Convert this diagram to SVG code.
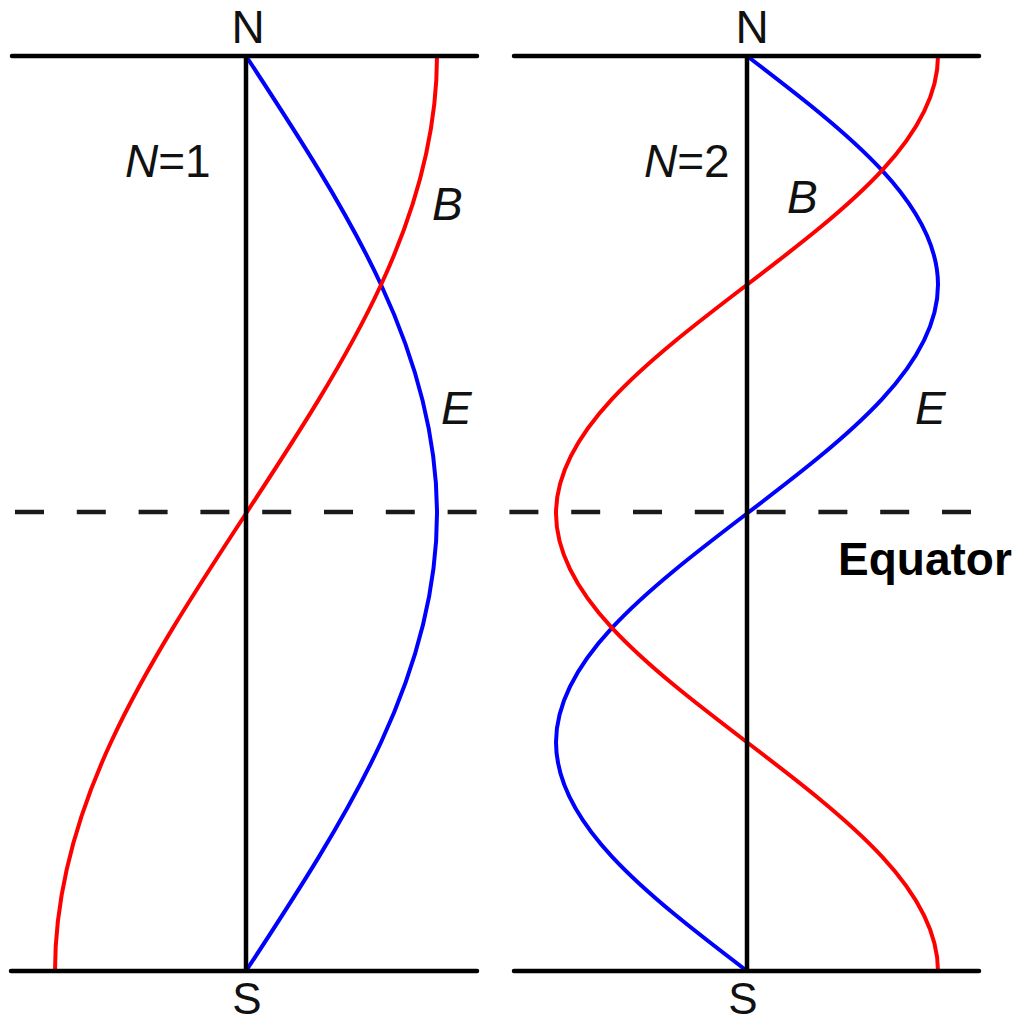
<svg xmlns="http://www.w3.org/2000/svg" width="1025" height="1023" viewBox="0 0 1025 1023">
<style>
.ax{stroke:#000;stroke-width:4.5;fill:none;stroke-linecap:round}
.eq{stroke:#1a1a1a;stroke-width:4.5;fill:none;stroke-dasharray:29 32.8}
.E{stroke:#0000ff;stroke-width:4;fill:none}
.B{stroke:#ff0000;stroke-width:4;fill:none}
.t{font-family:"Liberation Sans",Arial,sans-serif;font-size:46px;fill:#111}
.s{font-size:44px}
.i{font-style:italic}
.b{font-weight:bold;fill:#000}
</style>
<rect width="1025" height="1023" fill="#fff"/>
<line class="eq" x1="15" y1="512" x2="975" y2="512"/>
<g id="panel-n1">
<path class="E" d="M246,56 C296,132.25 345.7,208.5 381.06,284.75 C416.42,361 437,437.25 437,513.5 C437,589.75 416.42,666 381.06,742.25 C345.7,818.5 296,894.75 246,971"/>
<path class="B" d="M437,56 C437,132.25 416.42,208.5 381.06,284.75 C345.7,361 296,437.25 246,513.5 C196,589.75 146.3,666 110.94,742.25 C75.58,818.5 55,894.75 55,971"/>
<line class="ax" x1="12" y1="56" x2="477" y2="56"/>
<line class="ax" x1="11" y1="971" x2="477" y2="971"/>
<line class="ax" x1="246" y1="56" x2="246" y2="971" style="stroke-linecap:butt"/>
<text class="t" x="248" y="43" text-anchor="middle">N</text>
<text class="t s" x="247" y="1014" text-anchor="middle">S</text>
<text class="t" x="125" y="177"><tspan class="i">N</tspan>=1</text>
<text class="t i" x="432" y="220">B</text>
<text class="t i" x="441" y="424">E</text>
</g>
<g id="panel-n2">
<path class="E" d="M747,56 C797,94.13 846.7,132.25 882.06,170.38 C917.420,208.5 938,246.63 938,284.75 C938,322.88 917.42,361 882.06,399.13 C846.7,437.25 797,475.38 747,513.5 C697,551.63 647.3,589.75 611.94,627.88 C576.58,666 556,704.13 556,742.25 C556,780.38 576.58,818.5 611.94,856.63 C647.3,894.75 697,932.88 747,971"/>
<path class="B" d="M938,56 C938,94.13 917.42,132.25 882.06,170.38 C846.7,208.5 797,246.63 747,284.75 C697,322.88 647.3,361 611.94,399.13 C576.58,437.25 556,475.38 556,513.5 C556,551.63 576.58,589.75 611.94,627.88 C647.3,666 697,704.13 747,742.25 C797,780.38 846.7,818.5 882.06,856.63 C917.42,894.75 938,932.88 938,971"/>
<line class="ax" x1="514" y1="56" x2="979" y2="56"/>
<line class="ax" x1="514" y1="971" x2="979" y2="971"/>
<line class="ax" x1="747" y1="56" x2="747" y2="971" style="stroke-linecap:butt"/>
<text class="t" x="752" y="43" text-anchor="middle">N</text>
<text class="t s" x="743" y="1014" text-anchor="middle">S</text>
<text class="t" x="644" y="177"><tspan class="i">N</tspan>=2</text>
<text class="t i" x="787" y="213">B</text>
<text class="t i" x="915" y="424">E</text>
</g>
<text class="t b" x="838" y="575">Equator</text>
</svg>
